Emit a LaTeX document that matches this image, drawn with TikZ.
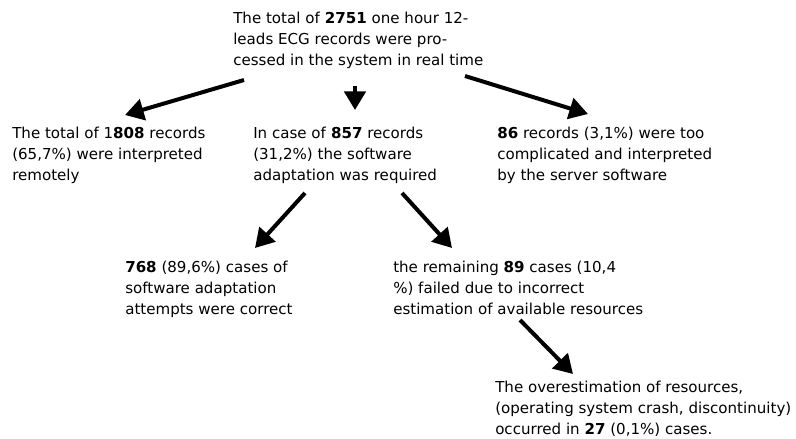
\documentclass[tikz,border=0pt]{standalone}
\usepackage{fontspec}
\setmainfont{DejaVu Sans}
\usetikzlibrary{arrows.meta}
\begin{document}
\begin{tikzpicture}[x=0.75pt,y=-0.75pt,
  txt/.style={anchor=base west, inner sep=0pt, align=left, font=\fontsize{11.3}{15.75}\selectfont},
  arr/.style={line width=3pt, -{Triangle[length=14pt,width=16pt]}, shorten >=0pt}]
\useasboundingbox (0,0) rectangle (796,439);
\node[txt] (top) at (233,65) {The total of \textbf{2751} one hour 12-\\leads ECG records were pro-\\cessed in the system in real time};
\node[txt] (left) at (12,180) {The total of 1\textbf{808} records\\(65,7\%) were interpreted\\remotely};
\node[txt] (mid) at (253,180) {In case of \textbf{857} records\\(31,2\%) the software\\adaptation was required};
\node[txt] (right) at (497,180) {\textbf{86} records (3,1\%) were too\\complicated and interpreted\\by the server software};
\node[txt] (ok) at (125,314) {\textbf{768} (89,6\%) cases of\\software adaptation\\attempts were correct};
\node[txt] (fail) at (393,314) {the remaining \textbf{89} cases (10,4\\\%) failed due to incorrect\\estimation of available resources};
\node[txt] (over) at (495,434) {The overestimation of resources,\\(operating system crash, discontinuity)\\occurred in \textbf{27} (0,1\%) cases.};
\coordinate (a1s) at (244,80);
\coordinate (a1e) at (125,115);
\coordinate (a2s) at (355,86);
\coordinate (a2e) at (355,110);
\coordinate (a3s) at (465,76);
\coordinate (a3e) at (588,114);
\coordinate (a4s) at (305,193);
\coordinate (a4e) at (255,248);
\coordinate (a5s) at (402,193);
\coordinate (a5e) at (452,248);
\coordinate (a6s) at (520,320);
\coordinate (a6e) at (573,374);
\draw[arr] (a1s) -- (a1e);
\draw[arr] (a2s) -- (a2e);
\draw[arr] (a3s) -- (a3e);
\draw[arr] (a4s) -- (a4e);
\draw[arr] (a5s) -- (a5e);
\draw[arr] (a6s) -- (a6e);
\end{tikzpicture}
\end{document}
